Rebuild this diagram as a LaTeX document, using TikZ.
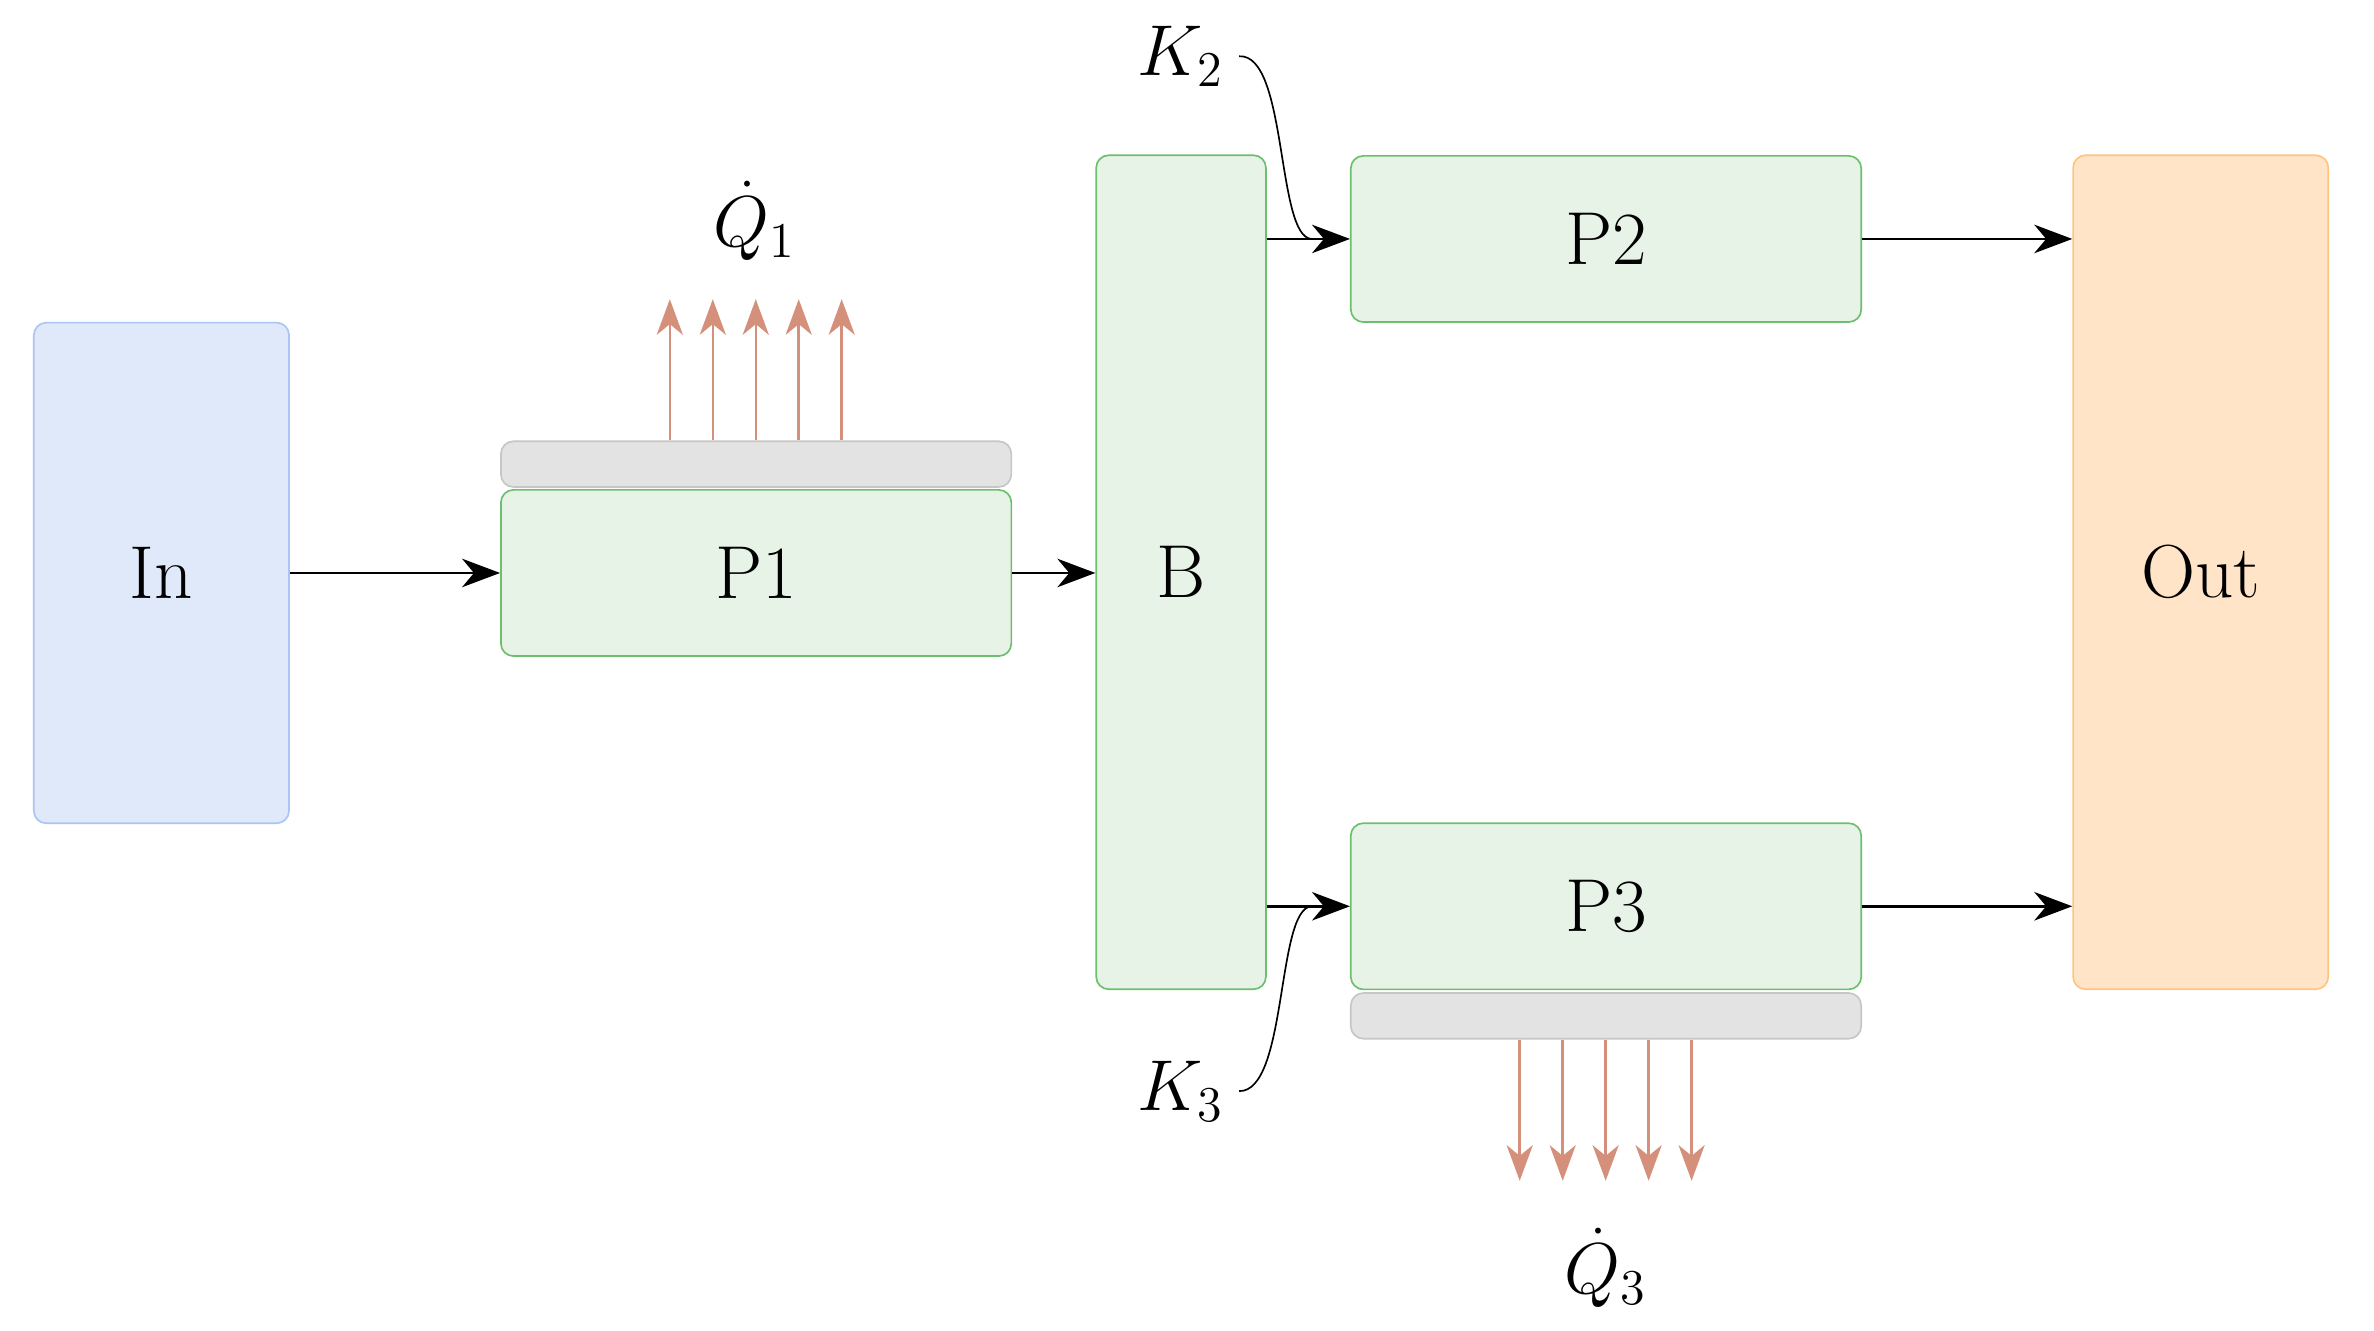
\documentclass[tikz,border=0pt]{standalone}
\usetikzlibrary{arrows.meta, positioning, calc}
\definecolor{procfill}{HTML}{E8F3E8}
\definecolor{procline}{HTML}{6CBF6C}
\definecolor{infill}{HTML}{E0E9FA}
\definecolor{inline}{HTML}{AAC5F4}
\definecolor{outfill}{HTML}{FFE4C8}
\definecolor{outline}{HTML}{FFC57E}
\definecolor{barfill}{HTML}{E3E3E3}
\definecolor{barline}{HTML}{C6C6C6}
\definecolor{heat}{HTML}{D4907A}
\tikzset{
    box/.style={draw, rounded corners=3pt, inner sep=0pt, font=\fontsize{18}{22}\selectfont},
    proc/.style={box, fill=procfill, draw=procline, minimum width=4.3cm, minimum height=1.4cm},
    bar/.style={draw=barline, fill=barfill, rounded corners=3pt, minimum width=4.3cm, minimum height=0.385cm, inner sep=0pt},
    flow/.style={-{Stealth[length=3.2mm, width=2.4mm, inset=1mm]}, semithick},
    heatflow/.style={-{Stealth[length=3mm, width=2.2mm, inset=0.9mm]}, heat, semithick},
    lbl/.style={font=\fontsize{18}{22}\selectfont}
}
\begin{document}
\begin{tikzpicture}[y=-1cm]
    \useasboundingbox (0,0) rectangle (20,11.213);
    % blocks
    \node[box, fill=infill, draw=inline, minimum width=2.15cm, minimum height=4.218cm] (in) at (1.36,4.827) {In};
    \node[proc] (p1) at (6.37,4.827) {P1};
    \node[bar] (bar1) at (6.37,3.910) {};
    \node[box, fill=procfill, draw=procline, minimum width=1.43cm, minimum height=7.026cm] (b) at (9.95,4.821) {B};
    \node[proc] (p2) at (13.53,2.013) {P2};
    \node[proc] (p3) at (13.53,7.635) {P3};
    \node[bar] (bar3) at (13.53,8.558) {};
    \node[box, fill=outfill, draw=outline, minimum width=2.15cm, minimum height=7.026cm] (out) at (18.54,4.821) {Out};
    % labels
    \node[lbl] (q1) at (6.36,1.859) {$\dot{Q}_1$};
    \node[lbl] (q3) at (13.53,10.68) {$\dot{Q}_3$};
    \node[lbl] (k2) at (9.95,0.474) {$K_2$};
    \node[lbl] (k3) at (9.95,9.192) {$K_3$};
    % flows
    \draw[flow] (in.east |- p1.west) -- (p1.west);
    \draw[flow] (p1.east) -- (p1.east -| b.west);
    \draw[flow] (b.east |- p2.west) -- (p2.west);
    \draw[flow] (b.east |- p3.west) -- (p3.west);
    \draw[flow] (p2.east) -- (p2.east -| out.west);
    \draw[flow] (p3.east) -- (p3.east -| out.west);
    % couplings
    \coordinate (k2end) at (11.05,2.013);
    \coordinate (k3end) at (11.05,7.635);
    \draw[thin] (k2.east) .. controls (10.85,0.45) and (10.75,2.0) .. (k2end);
    \draw[thin] (k3.east) .. controls (10.85,9.2) and (10.75,7.65) .. (k3end);
    % heat
    \foreach \i in {0,...,4} {
        \draw[heatflow] ($(bar1.north west)+(1.43+0.362*\i,0)$) -- ++(0,-1.19);
        \draw[heatflow] ($(bar3.south west)+(1.43+0.362*\i,0)$) -- ++(0,1.19);
    }
\end{tikzpicture}
\end{document}
